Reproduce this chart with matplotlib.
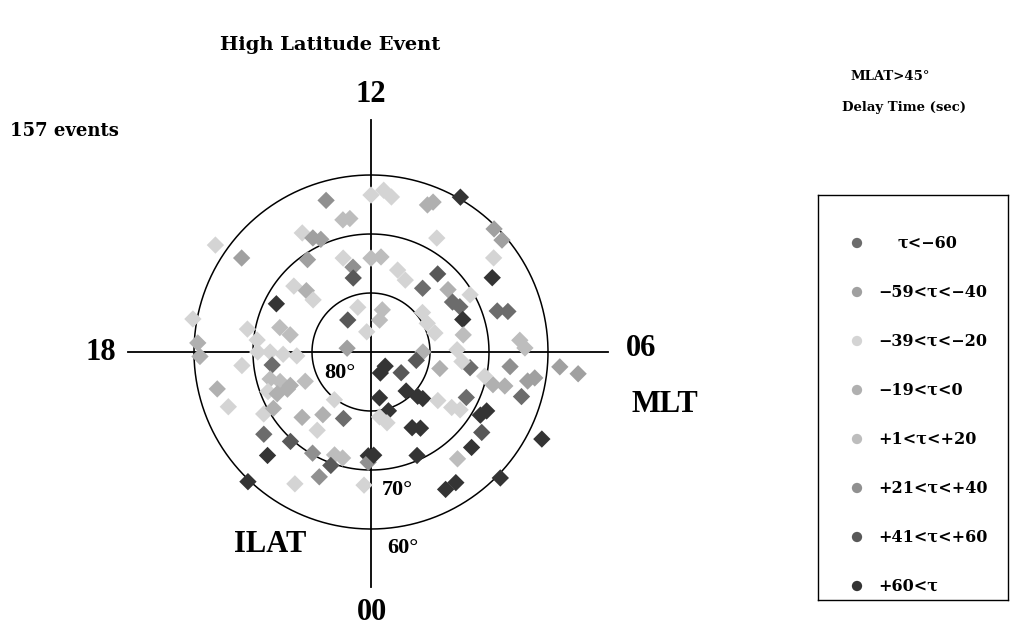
import numpy as np
import matplotlib.pyplot as plt

# Event positions: magnetic local time (hours), invariant latitude (deg), delay class
mlt = [13.1, 12.0, 11.7, 11.5, 10.0, 10.6, 10.5, 12.8, 12.6, 14.0, 13.8, 13.6, 10.0,
       9.0, 8.7, 15.6, 15.7, 14.3, 13.1, 12.0, 11.6, 12.8, 12.9, 10.8, 10.3, 8.5,
       8.1, 9.3, 9.4, 8.6, 15.3, 15.1, 15.2, 16.2, 14.4, 13.1, 11.0, 11.0, 8.1,
       7.8, 8.0, 7.3, 7.2, 7.1, 8.5, 7.8, 7.1, 6.7, 17.0, 17.2, 17.3, 17.3, 17.8,
       18.1, 12.8, 17.4, 17.6, 6.3, 6.1, 6.1, 6.0,
       18.0, 18.0, 18.1, 18.2, 18.5, 18.4, 19.0, 19.2, 19.5, 19.6, 19.4, 19.6,
       19.6, 18.9, 19.4, 20.0, 20.0, 20.9, 21.5, 22.5, 21.5, 21.7, 20.5, 21.2,
       21.0, 22.0, 22.7, 23.0, 22.7, 22.5, 22.0, 21.1, 23.8, 23.9, 23.9,
       3.0, 1.6, 3.7, 5.3, 0.7, 1.1, 2.8, 3.1, 3.2, 1.9, 2.2, 0.1, 1.6, 5.1,
       5.4, 3.6, 3.7, 3.8, 4.3, 4.0, 4.2, 3.6, 3.1, 2.6, 1.9, 2.2, 3.05, 4.2,
       5.6, 5.0, 5.05, 5.3, 5.4, 4.9, 5.7, 5.6, 0.5, 0.85, 5.2, 5.6]
ilat = [63.2, 63.4, 62.5, 63.5, 59.7, 63.3, 62.5, 67.1, 67.1, 66.7, 68.3, 69.1, 67.7,
        60.5, 60.8, 62.9, 58.0, 71.0, 73.4, 74.1, 73.8, 75.3, 77.1, 75.4, 76.5, 63.8,
        65.9, 72.6, 76.1, 73.2, 72.8, 74.9, 76.8, 72.0, 83.3, 82.1, 82.6, 84.4, 73.8,
        73.1, 70.6, 73.5, 67.5, 65.8, 79.0, 79.3, 78.7, 74.1, 74.0, 76.0, 68.7, 59.3,
        60.6, 61.0, 86.5, 85.9, 70.6, 64.7, 63.9, 75.4, 81.2,
        70.8, 72.9, 75.1, 77.4, 73.1, 68.0, 72.3, 73.8, 75.2, 77.8, 71.3, 72.6,
        74.5, 63.2, 64.1, 69.0, 70.9, 73.9, 76.6, 77.8, 79.8, 73.9, 67.1, 69.6,
        65.2, 70.2, 71.5, 71.4, 69.6, 67.1, 64.2, 59.7, 67.4, 72.4, 71.3,
        86.6, 86.1, 83.8, 82.2, 82.1, 79.6, 81.1, 79.1, 78.2, 75.4, 74.6, 72.5, 70.8,
        78.0, 73.0, 76.0, 73.4, 72.0, 72.1, 68.6, 68.0, 66.8, 66.5, 66.7, 63.5, 63.6,
        59.4, 57.5, 66.3, 68.6, 66.6, 63.0, 61.9, 63.4, 57.9, 54.7, 78.9, 77.7, 70.3,
        74.5]
delay_class = [5, 2, 2, 2, 7, 3, 3, 4, 4, 2, 1, 1, 2,
               1, 1, 1, 2, 1, 2, 4, 4, 5, 6, 2, 2, 2,
               7, 6, 0, 3, 2, 3, 2, 7, 6, 2, 4, 4, 0,
               0, 2, 7, 0, 0, 2, 2, 2, 4, 4, 4, 2, 2, 3,
               3, 2, 1, 2, 4, 4, 2, 3,
               2, 2, 2, 2, 0, 2, 4, 4, 3, 4, 2, 3,
               3, 3, 2, 2, 3, 3, 3, 0, 2, 2, 0, 6,
               7, 5, 4, 4, 6, 5, 2, 7, 2, 7, 5,
               7, 7, 6, 6, 7, 7, 7, 7, 7, 7, 7, 7, 7, 3,
               0, 2, 2, 2, 0, 7, 7, 6, 7, 4, 7, 7, 7, 7,
               5, 3, 3, 1, 1, 0, 1, 1, 2, 2, 2, 2]

class_labels = ["τ<−60", "−59<τ<−40", "−39<τ<−20", "−19<τ<0",
                "+1<τ<+20", "+21<τ<+40", "+41<τ<+60", "+60<τ"]
class_colors = ["#6c6c6c", "#a0a0a0", "#d4d4d4", "#b0b0b0",
                "#bdbdbd", "#909090", "#585858", "#343434"]

W, H = 1021, 625
fig = plt.figure(figsize=(W / 100, H / 100), dpi=100)


def px(x, y):
    return x / W, 1 - y / H


# dial centred at (371, 352) px, 5.9 px per degree of colatitude
cx, cy, scale, rmax = 371, 352, 5.9, 45
half = rmax * scale
ax = fig.add_axes([(cx - half) / W, (H - cy - half) / H, 2 * half / W, 2 * half / H],
                  projection="polar")
ax.set_theta_zero_location("S")
ax.set_theta_direction(1)
ax.set_ylim(0, rmax)
ax.axis("off")

t = np.linspace(0, 2 * np.pi, 500)
for colat in [10, 20, 30]:
    ax.plot(t, np.full_like(t, colat), color="black", lw=1.1, zorder=1)

# MLT axes: 00, 06, 12, 18 with their lengths in degrees
for hour, length in [(0, 39.8), (6, 40.2), (12, 39.3), (18, 41.2)]:
    th = hour / 24 * 2 * np.pi
    ax.plot([th, th], [0, length], color="black", lw=1.3, zorder=1)

theta = np.array(mlt) / 24 * 2 * np.pi
colat = 90 - np.array(ilat)
cols = [class_colors[k] for k in delay_class]
ax.scatter(theta, colat, marker="D", s=78, c=cols, edgecolors="none", zorder=3)

big = dict(family="Liberation Serif", weight="bold", size=22, ha="center", va="center")
fig.text(*px(371, 95), "12", **big)
fig.text(*px(101, 353), "18", **big)
fig.text(*px(641, 349), "06", **big)
fig.text(*px(372, 612), "00", **big)
fig.text(*px(665, 405), "MLT", **big)
fig.text(*px(270, 545), "ILAT", **big)

lat = dict(family="Liberation Serif", weight="bold", size=16, ha="center", va="center")
fig.text(*px(340, 373), "80°", **lat)
fig.text(*px(397, 490), "70°", **lat)
fig.text(*px(403, 548), "60°", **lat)

fig.text(*px(330, 45), "High Latitude Event", family="DejaVu Serif", weight="bold",
         size=14, ha="center", va="center")
fig.text(*px(10, 131), "157 events", family="DejaVu Serif", weight="bold",
         size=13, ha="left", va="center")
fig.text(*px(890, 77), "MLAT>45°", family="DejaVu Serif", weight="bold",
         size=9.5, ha="center", va="center")
fig.text(*px(904, 107), "Delay Time (sec)", family="DejaVu Serif", weight="bold",
         size=9.5, ha="center", va="center")

# legend box
lx0, ly0, lx1, ly1 = 818, 195, 1008, 600
lax = fig.add_axes([lx0 / W, 1 - ly1 / H, (lx1 - lx0) / W, (ly1 - ly0) / H])
lax.set_xlim(lx0, lx1)
lax.set_ylim(ly1, ly0)
lax.set_xticks([])
lax.set_yticks([])
for s in lax.spines.values():
    s.set_linewidth(1.0)
rows = 243 + 49 * np.arange(len(class_labels))
lax.scatter(np.full(len(rows), 857), rows, s=55, c=class_colors, edgecolors="none")
for i, (lab, y) in enumerate(zip(class_labels, rows)):
    lax.text(897 if i == 0 else 878, y, lab, family="DejaVu Serif", weight="bold",
             size=11.5, ha="left", va="center")

fig.savefig("out.png", dpi=100)
